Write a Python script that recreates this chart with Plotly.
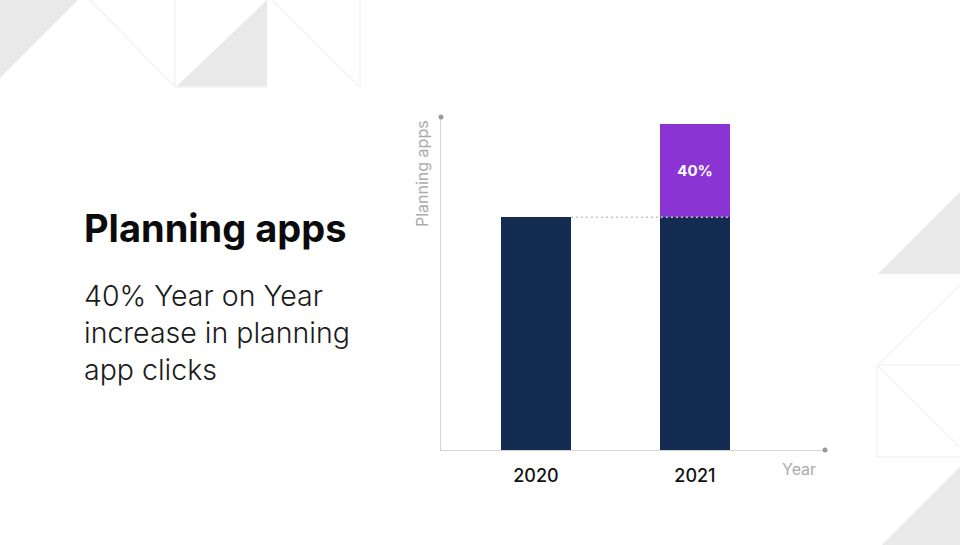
import plotly.graph_objects as go

# datos del grafico
years = ["2020", "2021"]
base_clicks = [100, 100]
increase_clicks = [0, 40]
increase_labels = ["", "40%"]

W, H = 960, 545
L, R, T, B = 441, 825, 117, 450
FONT = "Inter"


def px(x):
    return (x - L) / (R - L)


def py(y):
    return (B - y) / (B - T)


def path(points):
    return "M " + " L ".join(f"{px(x)},{py(y)}" for x, y in points) + " Z"


fig = go.Figure()
fig.add_trace(go.Bar(x=years, y=base_clicks, marker=dict(color="#142b52", line_width=0), width=0.44))
fig.add_trace(go.Bar(
    x=years, y=increase_clicks, marker=dict(color="#8a35d3", line_width=0), width=0.44,
    text=increase_labels, textposition="inside", insidetextanchor="middle", textangle=0,
    textfont=dict(family=FONT, size=15, color="white", weight="bold"),
))

# triangulos grises del fondo
shapes = []
for pts in [
    [(0, 0), (78, 0), (0, 78)],
    [(267, 0), (267, 87), (176, 87)],
    [(960, 192), (960, 274), (878, 274)],
    [(960, 467), (960, 545), (882, 545)],
]:
    shapes.append(dict(type="path", xref="paper", yref="paper", path=path(pts),
                       fillcolor="#e9e9e9", line_width=0, layer="below"))

# lineas claras del fondo
for x0, y0, x1, y1 in [
    (90, 0, 175, 87), (175, 0, 175, 87), (176, 87, 267, 87),
    (272, 0, 360, 87), (360, 0, 360, 87),
    (960, 285, 878, 365), (877, 365, 960, 365), (877, 365, 877, 457),
    (877, 457, 960, 457), (877, 365, 960, 447),
]:
    shapes.append(dict(type="line", xref="paper", yref="paper",
                       x0=px(x0), y0=py(y0), x1=px(x1), y1=py(y1),
                       line=dict(color="#f3f3f3", width=1.5), layer="below"))

# puntos al final de los ejes
for cx, cy in [(441, 117), (825, 450)]:
    shapes.append(dict(type="circle", xref="paper", yref="paper",
                       x0=px(cx - 2.5), x1=px(cx + 2.5), y0=py(cy + 2.5), y1=py(cy - 2.5),
                       fillcolor="#9a9a9a", line_width=0))

# linea punteada desde 2020 hasta la barra de 2021
shapes.append(dict(type="line", xref="x", yref="y", x0=0.22, x1=1.22,
                   y0=base_clicks[0], y1=base_clicks[0],
                   line=dict(color="#c4c4c4", width=1.5, dash="2px,3px")))


def texto(x, y, s, size, color, anchor="left", weight="normal", angle=0):
    return dict(xref="paper", yref="paper", x=px(x), y=py(y), text=s, showarrow=False,
                xanchor=anchor, yanchor="middle", textangle=angle,
                font=dict(family=FONT, size=size, color=color, weight=weight))


annotations = [
    texto(82, 228, "Planning apps", 38, "#0b0b0b", weight=700),
    texto(82, 295, "40% Year on Year", 28.5, "#1a1a1a", weight=300),
    texto(82, 332, "increase in planning", 28.5, "#1a1a1a", weight=300),
    texto(82, 369, "app clicks", 28.5, "#1a1a1a", weight=300),
    texto(422, 174, "Planning apps", 16, "#ababab", anchor="center", angle=-90),
    texto(799, 469, "Year", 16, "#ababab", anchor="center"),
]

fig.update_layout(
    width=W, height=H, barmode="stack", showlegend=False, bargap=0,
    margin=dict(l=L, r=W - R, t=T, b=H - B),
    paper_bgcolor="white", plot_bgcolor="rgba(0,0,0,0)",
    shapes=shapes, annotations=annotations,
    xaxis=dict(type="category", range=[-0.597, 1.818], showline=True, linecolor="#d4d4d4",
               linewidth=1.2, showgrid=False, ticks="", ticklabelstandoff=9,
               tickfont=dict(family=FONT, size=18, color="#111111", weight=500)),
    yaxis=dict(range=[0, 143], showline=True, linecolor="#d4d4d4", linewidth=1.2,
               showgrid=False, zeroline=False, showticklabels=False, ticks=""),
)

fig.write_html("out.html", post_script="document.body.style.margin='0';",
               config=dict(displayModeBar=False))
